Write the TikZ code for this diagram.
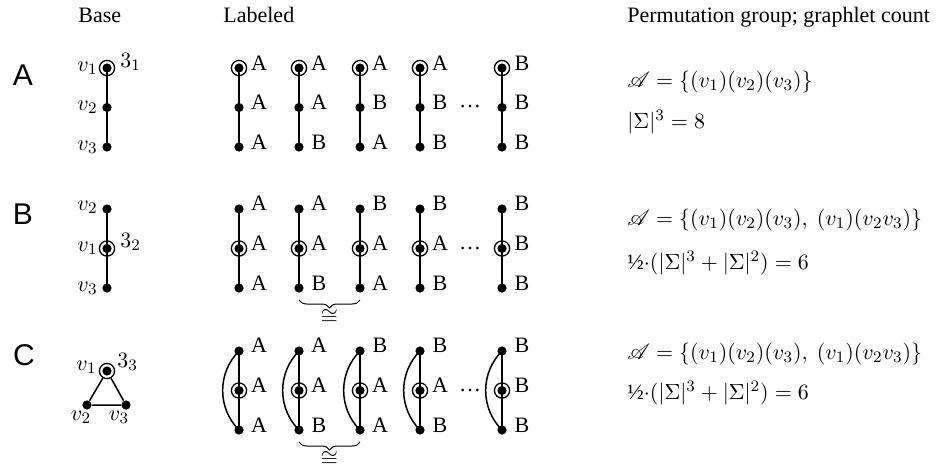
\documentclass[tikz,border=0pt]{standalone}
\usepackage{amsmath,amssymb}
\usepackage{mathrsfs}
\usepackage{fontspec}
\setmainfont{Liberation Serif}
\newfontfamily\panelfont{Liberation Sans}
\usepackage{tikz}
\usetikzlibrary{positioning, decorations.pathreplacing}

% chain with the root vertex on top
\newcommand{\chainTop}[6]{%
  \node[root] (#1t) at (#2,#3) {};
  \node[dot] (#1m) at (#2,#3+39.5) {};
  \node[dot] (#1b) at (#2,#3+79) {};
  \draw[edge] (#1t.center) -- (#1m.center) -- (#1b.center);
  \node[lab] (#1tl) at ([xshift=10pt,yshift=2.5pt]#1t.center) {#4};
  \node[lab] (#1ml) at ([xshift=10pt,yshift=2.5pt]#1m.center) {#5};
  \node[lab] (#1bl) at ([xshift=10pt,yshift=2.5pt]#1b.center) {#6};
}
% chain with the root vertex in the middle
\newcommand{\chainMid}[6]{%
  \node[dot] (#1t) at (#2,#3) {};
  \node[root] (#1m) at (#2,#3+39.5) {};
  \node[dot] (#1b) at (#2,#3+79) {};
  \draw[edge] (#1t.center) -- (#1m.center) -- (#1b.center);
  \node[lab] (#1tl) at ([xshift=10pt,yshift=3pt]#1t.center) {#4};
  \node[lab] (#1ml) at ([xshift=10pt,yshift=2.5pt]#1m.center) {#5};
  \node[lab] (#1bl) at ([xshift=10pt,yshift=2.5pt]#1b.center) {#6};
}
% triangle drawn as a chain plus a closing arc
\newcommand{\chainLoop}[6]{%
  \chainMid{#1}{#2}{#3}{#4}{#5}{#6}
  \draw[edge] (#1t.center) to[bend right=45] (#1b.center);
}

\begin{document}
\begin{tikzpicture}[
    x=0.5pt, y=-0.5pt,
    font=\fontsize{11}{13}\selectfont,
    dot/.style={circle, fill=black, minimum size=4.6pt, inner sep=0pt},
    root/.style={circle, draw=black, line width=0.65pt, minimum size=7.6pt, inner sep=0pt,
        path picture={\fill[black] (path picture bounding box.center) circle (2.3pt);}},
    edge/.style={line width=0.75pt},
    lab/.style={inner sep=0pt},
    panel/.style={font=\panelfont\fontsize{15}{17}\selectfont, inner sep=0pt},
    head/.style={anchor=base west, inner sep=0pt},
    formula/.style={anchor=west, inner sep=0pt},
    brace/.style={decorate, decoration={brace, mirror, amplitude=4pt}, line width=0.5pt}
]
\useasboundingbox (0,0) rectangle (937,468);

% Headers
\node[head] (hbase) at (78,22) {Base};
\node[head] (hlab) at (223,22) {Labeled};
\node[head] (hperm) at (627,22) {Permutation group; graphlet count};

% Panel letters
\node[panel] (pA) at (23,75) {A};
\node[panel] (pB) at (23,214) {B};
\node[panel] (pC) at (24,355) {C};

% A. Base graph
\node[root] (av1) at (107,68) {};
\node[dot] (av2) at (107,107.5) {};
\node[dot] (av3) at (107,147) {};
\draw[edge] (av1.center) -- (av2.center) -- (av3.center);
\node[lab, anchor=east] (av1l) at (98,68) {$v_1$};
\node[lab, anchor=east] (av2l) at (98,107.5) {$v_2$};
\node[lab, anchor=east] (av3l) at (98,147) {$v_3$};
\node[lab, anchor=west] (aorb) at (120,62) {$3_1$};

% A. Labeled
\chainTop{a1}{239}{68}{A}{A}{A}
\chainTop{a2}{299}{68}{A}{A}{B}
\chainTop{a3}{360}{68}{A}{B}{A}
\chainTop{a4}{420}{68}{A}{B}{B}
\node[lab] (adots) at (470,107) {\dots};
\chainTop{a5}{502}{68}{B}{B}{B}

% A. Permutation group
\node[formula] (agrp) at (627,82) {$\mathscr{A} = \{(v_1)(v_2)(v_3)\}$};
\node[formula] (acnt) at (627,122) {$|\Sigma|^3 = 8$};

% B. Base graph
\node[dot] (bv2) at (107,209) {};
\node[root] (bv1) at (107,248.5) {};
\node[dot] (bv3) at (107,288) {};
\draw[edge] (bv2.center) -- (bv1.center) -- (bv3.center);
\node[lab, anchor=east] (bv2l) at (98,207) {$v_2$};
\node[lab, anchor=east] (bv1l) at (98,248.5) {$v_1$};
\node[lab, anchor=east] (bv3l) at (98,288) {$v_3$};
\node[lab, anchor=west] (borb) at (120,242) {$3_2$};

% B. Labeled
\chainMid{b1}{239}{209}{A}{A}{A}
\chainMid{b2}{299}{209}{A}{A}{B}
\chainMid{b3}{360}{209}{B}{A}{A}
\chainMid{b4}{420}{209}{B}{A}{B}
\node[lab] (bdots) at (470,248) {\dots};
\chainMid{b5}{502}{209}{B}{B}{B}
\draw[brace] ([yshift=-6pt]b2b.center) -- ([yshift=-6pt]b3b.center)
    node[midway, yshift=-8.5pt, inner sep=0pt] {$\cong$};

% B. Permutation group
\node[formula] (bgrp) at (627,220) {$\mathscr{A} = \{(v_1)(v_2)(v_3),\ (v_1)(v_2v_3)\}$};
\node[formula] (bcnt) at (627,263) {½$\cdot(|\Sigma|^3 + |\Sigma|^2) = 6$};

% C. Base graph
\node[root] (cv1) at (107,371) {};
\node[dot] (cv2) at (87,405) {};
\node[dot] (cv3) at (126,405) {};
\draw[edge] (cv1) -- (cv2) -- (cv3) -- (cv1);
\node[lab, anchor=east] (cv1l) at (97,367) {$v_1$};
\node[lab] (cv2l) at (81,417) {$v_2$};
\node[lab] (cv3l) at (119,417) {$v_3$};
\node[lab, anchor=west] (corb) at (117,362) {$3_3$};

% C. Labeled
\chainLoop{c1}{239}{351}{A}{A}{A}
\chainLoop{c2}{299}{351}{A}{A}{B}
\chainLoop{c3}{360}{351}{B}{A}{A}
\chainLoop{c4}{420}{351}{B}{A}{B}
\node[lab] (cdots) at (470,390) {\dots};
\chainLoop{c5}{502}{351}{B}{B}{B}
\draw[brace] ([yshift=-6pt]c2b.center) -- ([yshift=-6pt]c3b.center)
    node[midway, yshift=-8.5pt, inner sep=0pt] {$\cong$};

% C. Permutation group
\node[formula] (cgrp) at (627,354) {$\mathscr{A} = \{(v_1)(v_2)(v_3),\ (v_1)(v_2v_3)\}$};
\node[formula] (ccnt) at (627,393) {½$\cdot(|\Sigma|^3 + |\Sigma|^2) = 6$};

\end{tikzpicture}
\end{document}
